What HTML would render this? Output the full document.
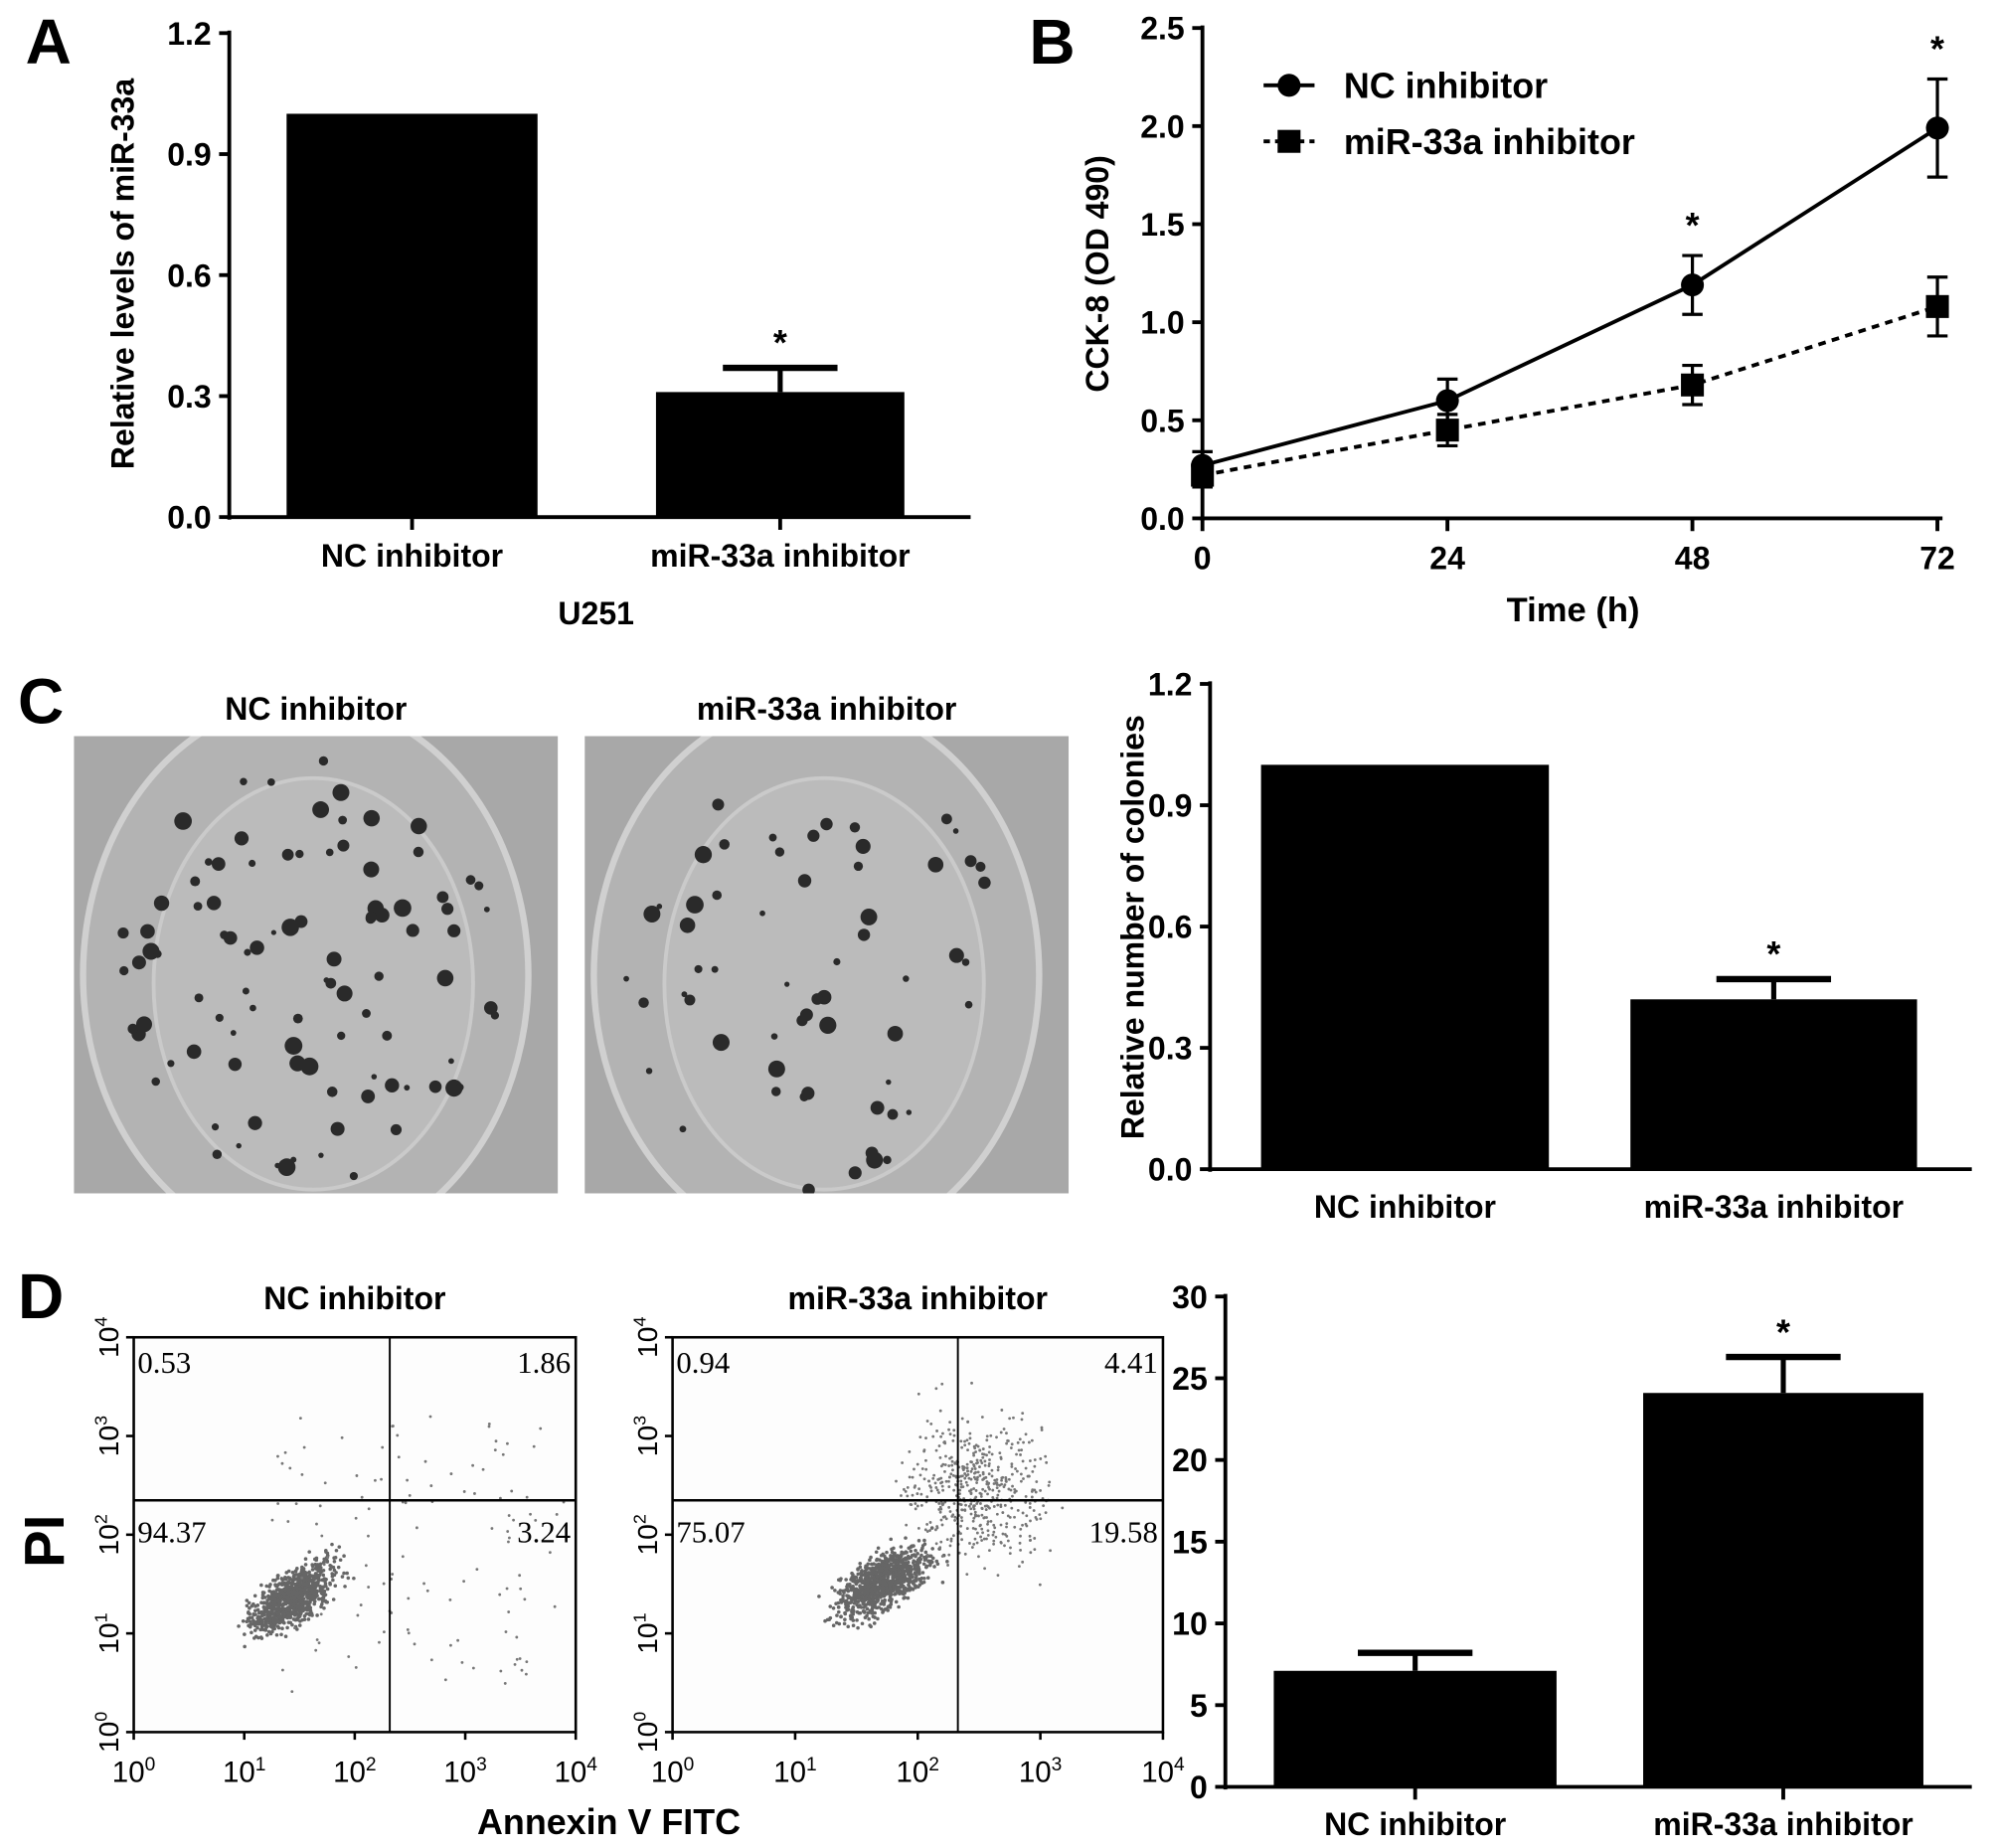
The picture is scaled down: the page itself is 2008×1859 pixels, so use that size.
<!DOCTYPE html>
<html><head><meta charset="utf-8"><style>
html,body{margin:0;padding:0;background:#fff;}
svg{display:block;font-family:"Liberation Sans",Arial,sans-serif;font-weight:bold;}
</style></head><body>
<svg id="fig" width="2008" height="1859" viewBox="0 0 1567 1451" preserveAspectRatio="none">
<defs>
<clipPath id="clip1"><rect x="58" y="578" width="380" height="359"/></clipPath>
<clipPath id="clip2"><rect x="459" y="578" width="380" height="359"/></clipPath>
</defs>
<g id="root"></g>
</svg>
<script>
// Panel A data
const aCats=["NC inhibitor","miR-33a inhibitor"];
const aVals=[1.0,0.31];
const aErr=[0,0.06];
const aTicks=[0,0.3,0.6,0.9,1.2];
// Panel B data
const bTimes=[0,24,48,72];
const bNC=[0.27,0.60,1.19,1.99];
const bNCerr=[0.07,0.11,0.15,0.25];
const bMiR=[0.22,0.45,0.68,1.08];
const bMiRerr=[0.06,0.08,0.10,0.15];
const bYTicks=[0,0.5,1.0,1.5,2.0,2.5];
// Panel C data
const cVals=[1.0,0.42];
const cErr=[0,0.05];
const cTicks=[0,0.3,0.6,0.9,1.2];
// Panel D data
const dVals=[7.1,24.1];
const dErr=[1.1,2.2];
const dTicks=[0,5,10,15,20,25,30];
const q1=["0.53","1.86","94.37","3.24"];
const q2=["0.94","4.41","75.07","19.58"];

const NS="http://www.w3.org/2000/svg";
const root=document.getElementById('root');
function el(tag,attrs,parent,text){const e=document.createElementNS(NS,tag);for(const k in attrs)e.setAttribute(k,attrs[k]);if(text!==undefined)e.textContent=text;(parent||root).appendChild(e);return e;}

[["A",20,50],["B",808,50],["C",14,568],["D",14,1035]].forEach(([t,x,y])=>{
const e=el('text',{x:x,y:y,'font-size':50},root,t);


});

function barChart(o){
const g=el('g',{});


const y=v=>o.y0-(v-o.min)/(o.max-o.min)*(o.y0-o.y1);
const ax=el('line',{x1:o.ax,y1:o.y1-2,x2:o.ax,y2:o.y0+2,stroke:'#000','stroke-width':3},g);

const xa=el('line',{x1:o.ax,y1:o.y0,x2:o.xe,y2:o.y0,stroke:'#000','stroke-width':3},g);

o.ticks.forEach(t=>{
el('line',{x1:o.ax-8,x2:o.ax,y1:y(t),y2:y(t),stroke:'#000','stroke-width':3},g);
const tx=el('text',{x:o.ax-14,y:y(t)+9,'font-size':25,'text-anchor':'end'},g,o.fmt(t));

});
o.vals.forEach((v,i)=>{
const [x0,x1]=o.bars[i];const cx=(x0+x1)/2;
const r=el('rect',{x:x0,y:y(v),width:x1-x0,height:o.y0-y(v),fill:'#000'},g);


if(o.err[i]>0){
el('line',{x1:cx,x2:cx,y1:y(v),y2:y(v+o.err[i]),stroke:'#000','stroke-width':4},g);
el('line',{x1:cx-45,x2:cx+45,y1:y(v+o.err[i]),y2:y(v+o.err[i]),stroke:'#000','stroke-width':5},g);
if(o.star[i]){const s=el('text',{x:cx,y:y(v+o.err[i])-10,'font-size':28,'text-anchor':'middle'},g,'*');
}
}
if(o.xtick) el('line',{x1:cx,x2:cx,y1:o.y0,y2:o.y0+10,stroke:'#000','stroke-width':3},g);
const lb=el('text',{x:cx,y:o.ly,'font-size':25,'text-anchor':'middle'},g,aCats[i]);

});
if(o.title){const t=el('text',{x:0,y:0,'font-size':25,'text-anchor':'middle',transform:`translate(${o.tx},${o.ty}) rotate(-90)`},g,o.title);
}
return g;
}
barChart({name:'chart-a',ax:180,y0:406,y1:26,xe:762,min:0,max:1.2,ticks:aTicks,fmt:t=>t.toFixed(1),vals:aVals,err:aErr,star:[0,1],bars:[[225,422],[515,710]],ly:445,xtick:true,title:'Relative levels of miR-33a',tx:105,ty:215});
const u=el('text',{x:468,y:490,'font-size':25,'text-anchor':'middle'},root,'U251');

barChart({name:'chart-c',ax:950,y0:918,y1:537,xe:1548,min:0,max:1.2,ticks:cTicks,fmt:t=>t.toFixed(1),vals:cVals,err:cErr,star:[0,1],bars:[[990,1216],[1280,1505]],ly:956,xtick:false,title:'Relative number of colonies',tx:898,ty:728});
barChart({name:'chart-d',ax:962,y0:1403,y1:1018,xe:1548,min:0,max:30,ticks:dTicks,fmt:t=>String(t),vals:dVals,err:dErr,star:[0,1],bars:[[1000,1222],[1290,1510]],ly:1441,xtick:true});

(function(){
const g=el('g',{});

const X=t=>944+t/72*(1521-944), Y=v=>407-v/2.5*(407-22);
el('line',{x1:944,y1:20,x2:944,y2:409,stroke:'#000','stroke-width':3},g);
el('line',{x1:944,y1:407,x2:1525,y2:407,stroke:'#000','stroke-width':3},g);
bYTicks.forEach(t=>{el('line',{x1:936,x2:944,y1:Y(t),y2:Y(t),stroke:'#000','stroke-width':3},g);
const tx=el('text',{x:930,y:Y(t)+9,'font-size':25,'text-anchor':'end'},g,t.toFixed(1));
});
bTimes.forEach(t=>{el('line',{x1:X(t),x2:X(t),y1:407,y2:417,stroke:'#000','stroke-width':3},g);
const tx=el('text',{x:X(t),y:447,'font-size':25,'text-anchor':'middle'},g,String(t));
});
const xt=el('text',{x:1235,y:488,'font-size':27,'text-anchor':'middle'},g,'Time (h)');

const yt=el('text',{x:0,y:0,'font-size':25,'text-anchor':'middle',transform:'translate(870,215) rotate(-90)'},g,'CCK-8  (OD 490)');

function series(vals,errs,dash,marker,name){
const pts=bTimes.map((t,i)=>X(t)+','+Y(vals[i])).join(' ');
const l=el('polyline',{points:pts,fill:'none',stroke:'#000','stroke-width':3,'stroke-dasharray':dash},g);

bTimes.forEach((t,i)=>{const x=X(t);
el('line',{x1:x,x2:x,y1:Y(vals[i]-errs[i]),y2:Y(vals[i]+errs[i]),stroke:'#000','stroke-width':2.5},g);
[vals[i]-errs[i],vals[i]+errs[i]].forEach(v=>el('line',{x1:x-8,x2:x+8,y1:Y(v),y2:Y(v),stroke:'#000','stroke-width':2.5},g));
const m=marker==='c'?el('circle',{cx:x,cy:Y(vals[i]),r:9,fill:'#000'},g):el('rect',{x:x-9,y:Y(vals[i])-9,width:18,height:18,fill:'#000'},g);
});
}
series(bMiR,bMiRerr,'6,5','s','mir33a-inhibitor');
series(bNC,bNCerr,'none','c','nc-inhibitor');
[[48,bNC[2]+bNCerr[2]],[72,bNC[3]+bNCerr[3]]].forEach(([t,v])=>{const s=el('text',{x:X(t),y:Y(v)-14,'font-size':28,'text-anchor':'middle'},g,'*');
});
const lg=el('g',{},g);
el('line',{x1:992,x2:1032,y1:67,y2:67,stroke:'#000','stroke-width':3},lg);
el('circle',{cx:1012,cy:67,r:9,fill:'#000'},lg);
const l1=el('text',{x:1055,y:77,'font-size':28},lg,'NC inhibitor');
el('line',{x1:992,x2:1032,y1:111,y2:111,stroke:'#000','stroke-width':3,'stroke-dasharray':'5,4'},lg);
el('rect',{x:1003,y:102,width:18,height:18,fill:'#000'},lg);
const l2=el('text',{x:1055,y:121,'font-size':28},lg,'miR-33a inhibitor');
})();

function rng(seed){return ()=>{seed=(seed*16807)%2147483647;return seed/2147483647;};}
function dish(x0,title,seed,n,clip){
const g=el('g',{'clip-path':'url(#'+clip+')'});
const w=380,h=359,y0=578;
el('rect',{x:x0,y:y0,width:w,height:h,fill:'#a8a8a8'},g);
el('ellipse',{cx:x0+w/2-8,cy:y0+h/2+8,rx:w*0.46,ry:h*0.6,fill:'#b3b3b3',stroke:'#d0d0d0','stroke-width':5},g);
el('ellipse',{cx:x0+w/2-2,cy:y0+h/2+15,rx:w*0.33,ry:h*0.45,fill:'#bbbbbb',stroke:'#cacaca','stroke-width':3},g);
const r=rng(seed);
for(let i=0;i<n;i++){const a=r()*6.283,d=Math.sqrt(r())*0.95;
el('circle',{cx:x0+w/2-8+Math.cos(a)*d*w*0.43,cy:y0+h/2+8+Math.sin(a)*d*h*0.5,r:2+r()*5,fill:'#2a2a2a'},g);}
const t=el('text',{x:x0+w/2,y:565,'font-size':25,'text-anchor':'middle'},root,title);

}
dish(58,'NC inhibitor',12345,95,'clip1');
dish(459,'miR-33a inhibitor',777,60,'clip2');

function flow(x0,x1,vx,hy,labels,title,seed,extra){
const g=el('g',{});
const y0=1050,y1=1360;
el('rect',{x:x0,y:y0,width:x1-x0,height:y1-y0,fill:'#fdfdfd',stroke:'#000','stroke-width':2},g);
const r=rng(seed);const W=x1-x0,H=y1-y0;
const gs=()=>{let s=0;for(let k=0;k<4;k++)s+=r();return (s-2)/1.15;};
const cx0=x0+W*(0.36+extra*0.07), cy0=y0+H*(0.66-extra*0.04);
for(let i=0;i<1000;i++){const t=gs(),s=gs();
el('circle',{cx:cx0+t*W*0.08+s*W*0.035,cy:cy0-t*H*0.07+s*H*0.04,r:1.4,fill:'#666'},g);}
const nsc=120+extra*400;
for(let i=0;i<nsc;i++){let px,py;
if(extra){px=x0+W*(0.62+gs()*0.14);py=y0+H*(0.38+gs()*0.18);}
else{px=x0+W*(0.3+r()*0.68);py=y0+H*(0.2+r()*0.7);}
px=Math.min(x1-3,Math.max(x0+3,px));py=Math.min(y1-3,Math.max(y0+3,py));
el('circle',{cx:px,cy:py,r:1.1,fill:'#777'},g);}
el('line',{x1:vx,x2:vx,y1:y0,y2:y1,stroke:'#000','stroke-width':1.5},g);
el('line',{x1:x0,x2:x1,y1:hy,y2:hy,stroke:'#000','stroke-width':2},g);
el('text',{x:x0+3,y:y0+28,'font-family':'Liberation Serif','font-weight':'normal','font-size':24},g,labels[0]);
el('text',{x:x1-4,y:y0+28,'font-family':'Liberation Serif','font-weight':'normal','font-size':24,'text-anchor':'end'},g,labels[1]);
el('text',{x:x0+3,y:hy+33,'font-family':'Liberation Serif','font-weight':'normal','font-size':24},g,labels[2]);
el('text',{x:x1-4,y:hy+33,'font-family':'Liberation Serif','font-weight':'normal','font-size':24,'text-anchor':'end'},g,labels[3]);
for(let k=0;k<=4;k++){const xx=x0+W*k/4,yy=y1-H*k/4;
el('line',{x1:xx,x2:xx,y1:y1,y2:y1+6,stroke:'#000','stroke-width':2},g);
el('line',{x1:x0-6,x2:x0,y1:yy,y2:yy,stroke:'#000','stroke-width':2},g);
const t=el('text',{x:xx,y:1399,'font-size':23,'font-weight':'normal','text-anchor':'middle'},g);t.textContent='10';
el('tspan',{dy:-9,'font-size':15},t,String(k));
const ty=el('text',{x:0,y:0,'font-size':22,'font-weight':'normal','text-anchor':'middle',transform:`translate(${x0-12},${yy}) rotate(-90)`},g);ty.textContent='10';
el('tspan',{dy:-9,'font-size':14},ty,String(k));}
const tt=el('text',{x:(x0+x1)/2,y:1028,'font-size':25,'text-anchor':'middle'},root,title);

}
flow(105,452,306,1178,q1,'NC inhibitor',4242,0);
flow(528,913,752,1178,q2,'miR-33a inhibitor',9898,1);
const pi=el('text',{x:0,y:0,'font-size':44,'text-anchor':'middle',transform:'translate(50,1210) rotate(-90)'},root,'PI');

const an=el('text',{x:478,y:1440,'font-size':28,'text-anchor':'middle'},root,'Annexin V FITC');

</script>
</body></html>
